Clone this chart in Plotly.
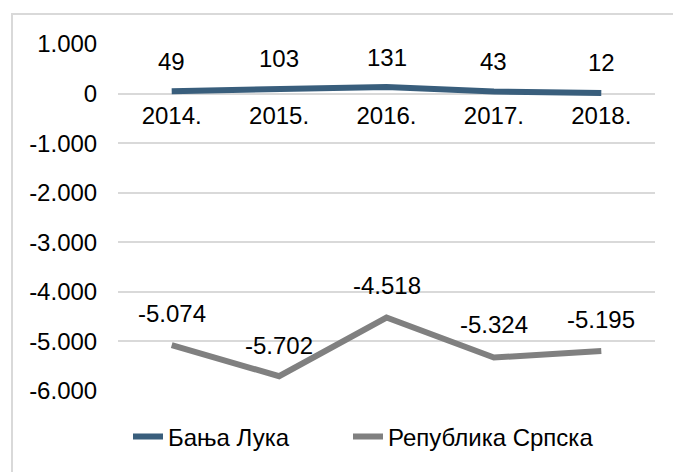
import plotly.graph_objects as go

years = ["2014.", "2015.", "2016.", "2017.", "2018."]
banja_luka = [49, 103, 131, 43, 12]
republika_srpska = [-5074, -5702, -4518, -5324, -5195]
y_ticks = [1000, 0, -1000, -2000, -3000, -4000, -5000, -6000]

BLUE = "#395E7C"
GREY = "#808080"
FONT = "Liberation Sans"
FS = 24

W, H = 673, 472
ML, MR, MT, MB = 118, 18, 44, 81
PW, PH = W - ML - MR, H - MT - MB


def fmt(v):
    s = f"{abs(v):,}".replace(",", ".")
    return ("-" if v < 0 else "") + s


fig = go.Figure()
fig.add_trace(go.Scatter(x=years, y=banja_luka, mode="lines", name="Бања Лука",
                         line=dict(color=BLUE, width=6), legend="legend"))
fig.add_trace(go.Scatter(x=years, y=republika_srpska, mode="lines", name="Република Српска",
                         line=dict(color=GREY, width=6), legend="legend2"))

bl_shift = [30, 30, 30, 30, 30]
rs_shift = [32, 31, 32, 33, 32]
annots = []
for i, (v, s) in enumerate(zip(banja_luka, bl_shift)):
    annots.append(dict(x=i, y=v, xref="x", yref="y", text=fmt(v), showarrow=False, yshift=s,
                       font=dict(size=FS, color="#000000", family=FONT)))
for i, (v, s) in enumerate(zip(republika_srpska, rs_shift)):
    annots.append(dict(x=i, y=v, xref="x", yref="y", text=fmt(v), showarrow=False, yshift=s,
                       font=dict(size=FS, color="#000000", family=FONT)))

leg_common = dict(orientation="h", xanchor="left", y=(H - MB - 437) / PH, yanchor="middle",
                  font=dict(size=FS, family=FONT), bgcolor="rgba(0,0,0,0)")

fig.update_layout(
    width=W, height=H,
    margin=dict(l=ML, r=MR, t=MT, b=MB),
    paper_bgcolor="white", plot_bgcolor="white",
    font=dict(family=FONT, size=FS, color="#000000"),
    annotations=annots,
    shapes=[dict(type="rect", xref="paper", yref="paper",
                 x0=(12 - ML) / PW, x1=(680 - ML) / PW,
                 y0=(H - MB - 480) / PH, y1=(H - MB - 14) / PH,
                 line=dict(color="#D9D9D9", width=2), fillcolor="rgba(0,0,0,0)", layer="below")],
    showlegend=True,
    legend=dict(x=(128 - ML) / PW, **leg_common),
    legend2=dict(x=(348 - ML) / PW, **leg_common),
    xaxis=dict(type="category", range=[-0.5, 4.5], showgrid=False, showline=False,
               zeroline=False, anchor="free", position=6 / 7,
               ticks="outside", ticklen=1, tickcolor="rgba(0,0,0,0)",
               tickfont=dict(size=FS, family=FONT)),
    yaxis=dict(range=[-6000, 1000], tickvals=y_ticks, ticktext=[fmt(v) for v in y_ticks],
               showgrid=True, gridcolor="#D9D9D9", gridwidth=1.5, zeroline=False,
               showline=False, ticks="outside", ticklen=15, tickcolor="rgba(0,0,0,0)",
               tickfont=dict(size=FS, family=FONT)),
)

fig.write_html("out.html")
